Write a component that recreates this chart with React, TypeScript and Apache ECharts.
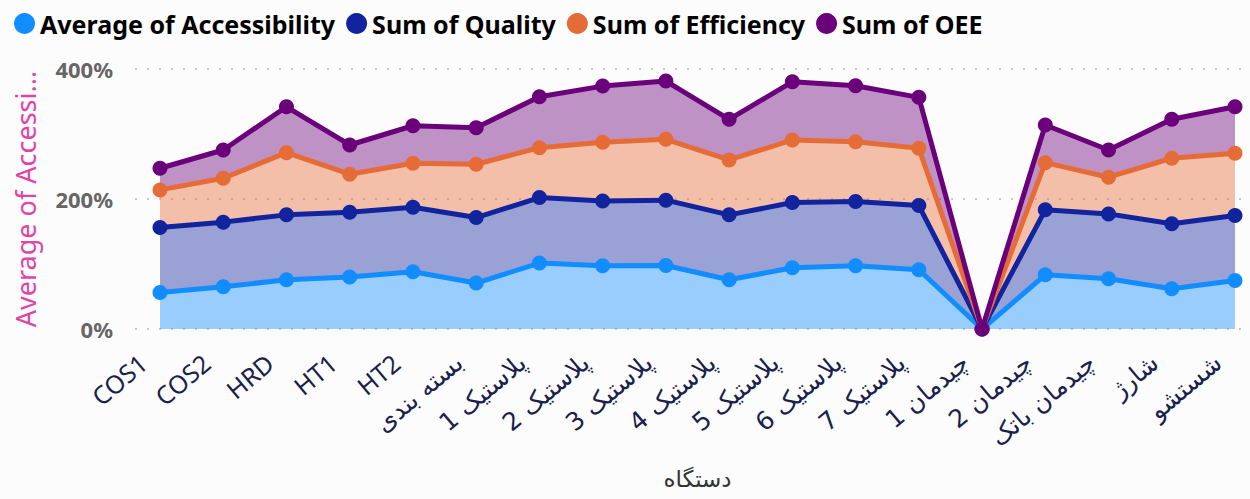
import React, { useEffect, useRef } from "react";
import * as echarts from "echarts";

const categories = [
  "COS1", "COS2", "HRD", "HT1", "HT2", "بسته بندی",
  "پلاستیک 1", "پلاستیک 2", "پلاستیک 3", "پلاستیک 4", "پلاستیک 5",
  "پلاستیک 6", "پلاستیک 7", "چیدمان 1", "چیدمان 2", "چیدمان باتک",
  "شارژ", "شستشو",
];

const accessibility = [56.2, 65.0, 75.7, 79.9, 88.0, 70.7, 101.4, 97.2, 97.7, 75.7, 94.2, 97.2, 91.1, 0, 83.4, 77.3, 61.9, 74.7];
const quality = [99.9, 99.4, 99.9, 99.8, 99.4, 100.7, 100.8, 99.9, 100.5, 99.9, 100.3, 98.8, 98.8, 0, 99.9, 99.8, 99.9, 99.8];
const efficiency = [57.9, 67.6, 95.7, 58.4, 67.6, 82.1, 76.8, 90.2, 93.7, 84.5, 96.3, 92.2, 88.1, 0, 72.6, 56.4, 100.9, 95.9];
const oee = [33.3, 43.4, 70.6, 45.0, 57.7, 56.2, 78.3, 86.4, 89.5, 62.5, 89.5, 86.0, 78.4, 0, 57.9, 41.9, 59.9, 71.5];

const seriesNames = ["Average of Accessibility", "Sum of Quality", "Sum of Efficiency", "Sum of OEE"];
const seriesColors = ["#118DFF", "#12239E", "#E66C37", "#6B007B"];
const seriesValues = [accessibility, quality, efficiency, oee];

const yTicks = [0, 200, 400];
const xAxisTitle = "دستگاه";
const yAxisTitle = "Average of Accessi...";

const FONT = "'Noto Sans', 'DejaVu Sans', sans-serif";
const LABEL_COLOR = "#1B1F4B";

export default function App() {
  const ref = useRef<HTMLDivElement>(null);
  useEffect(() => {
    if (!ref.current) return;
    const chart = echarts.init(ref.current, undefined, { renderer: "svg" });
    const areaSeries = seriesNames.map((name, i) => ({
      name,
      type: "line",
      xAxisIndex: 0,
      yAxisIndex: 0,
      stack: "area",
      data: seriesValues[i],
      symbol: "none",
      showSymbol: false,
      silent: true,
      color: seriesColors[i],
      lineStyle: { width: 0, opacity: 0 },
      areaStyle: { color: seriesColors[i], opacity: 0.42 },
      z: 1,
    }));
    const lineSeries = seriesNames.map((name, i) => ({
      name,
      type: "line",
      xAxisIndex: 0,
      yAxisIndex: 0,
      stack: "line",
      data: seriesValues[i],
      symbol: "circle",
      symbolSize: 15,
      showSymbol: true,
      color: seriesColors[i],
      lineStyle: { width: 5, color: seriesColors[i] },
      itemStyle: { color: seriesColors[i] },
      z: 3 + i,
    }));
    const option: any = {
      animation: false,
      backgroundColor: "#FCFCFC",
      textStyle: { fontFamily: FONT },
      legend: {
        left: 9,
        top: 6,
        icon: "circle",
        itemWidth: 21,
        itemHeight: 21,
        itemGap: 11,
        textStyle: { fontFamily: FONT, fontWeight: "bold", fontSize: 25, color: "#000" },
        data: seriesNames,
      },
      grid: [
        { left: 160, right: 15, top: 69, bottom: 170, outerBoundsMode: "none", containLabel: false },
        { left: 135, right: 5, top: 69, bottom: 170, outerBoundsMode: "none", containLabel: false },
      ],
      xAxis: [
        {
          type: "category",
          gridIndex: 0,
          data: categories,
          boundaryGap: false,
          axisLine: { show: false },
          axisTick: { show: false },
          axisLabel: {
            rotate: 40,
            color: LABEL_COLOR,
            fontFamily: FONT,
            margin: 16,
            padding: [0, 22, 0, 0],
            interval: 0,
            formatter: (v: string) => (/[\u0600-\u06FF]/.test(v) ? `{ar|${v}}` : `{en|${v}}`),
            rich: {
              en: { fontSize: 25, color: LABEL_COLOR, fontFamily: FONT },
              ar: { fontSize: 25, color: LABEL_COLOR, fontFamily: "'DejaVu Sans', sans-serif" },
            },
          },
          name: xAxisTitle,
          nameLocation: "middle",
          nameGap: 137,
          nameTextStyle: { fontSize: 23, color: "#333", fontFamily: FONT },
        },
        {
          type: "category",
          gridIndex: 1,
          data: categories,
          show: false,
        },
      ],
      yAxis: [
        {
          type: "value",
          gridIndex: 0,
          min: yTicks[0],
          max: yTicks[yTicks.length - 1],
          interval: 200,
          show: false,
          splitLine: { show: false },
        },
        {
          type: "value",
          gridIndex: 1,
          min: yTicks[0],
          max: yTicks[yTicks.length - 1],
          interval: 200,
          axisLine: { show: false },
          axisTick: { show: false },
          axisLabel: {
            formatter: "{value}%",
            fontSize: 22,
            fontWeight: "bold",
            color: "#666",
            margin: 22,
            fontFamily: FONT,
          },
          splitLine: { show: true, lineStyle: { color: "#C8C8C8", width: 2, type: [2, 10] } },
          name: yAxisTitle,
          nameLocation: "middle",
          nameGap: 96,
          nameTextStyle: { fontSize: 27, color: "#E044A7", fontFamily: FONT },
        },
      ],
      series: [...areaSeries, ...lineSeries],
    };
    chart.setOption(option);
    return () => chart.dispose();
  }, []);
  return (
    <div
      ref={ref}
      style={{ position: "absolute", left: 0, top: 0, width: 1250, height: 499 }}
    />
  );
}
